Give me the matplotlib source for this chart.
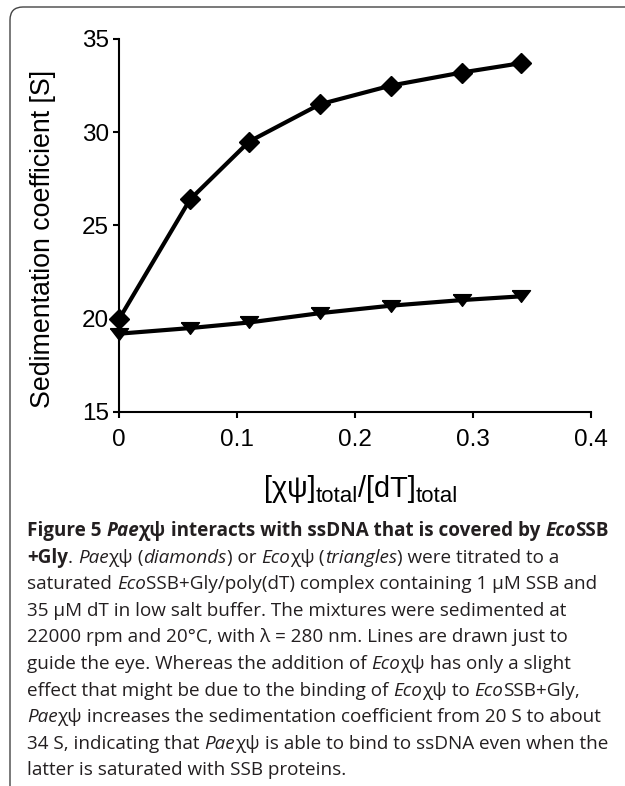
import numpy as np
import matplotlib
matplotlib.use('Agg')
import matplotlib.pyplot as plt
from matplotlib.patches import FancyBboxPatch

plt.rcParams['font.family'] = ['Liberation Sans', 'DejaVu Sans']

# 데이터
ratio = [0, 0.06, 0.11, 0.17, 0.23, 0.29, 0.34]
pae_s = [20.0, 26.4, 29.5, 31.5, 32.5, 33.2, 33.7]
eco_s = [19.2, 19.5, 19.8, 20.3, 20.7, 21.0, 21.2]

x_ticks = [0, 0.1, 0.2, 0.3, 0.4]
x_tick_labels = ['0', '0.1', '0.2', '0.3', '0.4']
y_ticks = [15, 20, 25, 30, 35]

# x축 라벨 조각 (텍스트, 아래첨자 여부)
xlabel_parts = [("[χψ]", False), ("total", True), ("/", False), ("[dT]", False), ("total", True)]

# 캡션 (텍스트, 스타일)
caption = [
    [("Figure 5 ", 'b'), ("Pae", 'bi'), ("χψ", 'b'), (" interacts with ssDNA that is covered by ", 'b'), ("Eco", 'bi'), ("SSB", 'b')],
    [("+Gly", 'b'), (". ", 'r'), ("Pae", 'i'), ("χψ", 'r'), (" (", 'r'), ("diamonds", 'i'), (") or ", 'r'),
     ("Eco", 'i'), ("χψ", 'r'), (" (", 'r'), ("triangles", 'i'), (") were titrated to a", 'r')],
    [("saturated ", 'r'), ("Eco", 'i'), ("SSB+Gly/poly(dT) complex containing 1 µM SSB and", 'r')],
    [("35 µM dT in low salt buffer. The mixtures were sedimented at", 'r')],
    [("22000 rpm and 20°C, with λ = 280 nm. Lines are drawn just to", 'r')],
    [("guide the eye. Whereas the addition of ", 'r'), ("Eco", 'i'), ("χψ", 'r'), (" has only a slight", 'r')],
    [("effect that might be due to the binding of ", 'r'), ("Eco", 'i'), ("χψ", 'r'), (" to ", 'r'),
     ("Eco", 'i'), ("SSB+Gly,", 'r')],
    [("Pae", 'i'), ("χψ", 'r'), (" increases the sedimentation coefficient from 20 S to about", 'r')],
    [("34 S, indicating that ", 'r'), ("Pae", 'i'), ("χψ", 'r'), (" is able to bind to ssDNA even when the", 'r')],
    [("latter is saturated with SSB proteins.", 'r')],
]

W, H = 625, 786
fig = plt.figure(figsize=(W / 100, H / 100), dpi=100)
ax = fig.add_axes([119.3 / W, 1 - 412 / H, 472 / W, 373 / H])

ax.plot(ratio, pae_s, color='black', lw=3, marker='D', markersize=10, clip_on=False, zorder=5)
tri = [(-1, 0.65), (1, 0.65), (0, -0.65), (-1, 0.65)]
ax.plot(ratio, eco_s, color='black', lw=3, marker=tri, markersize=13, clip_on=False, zorder=5)

ax.set_xlim(0, 0.4)
ax.set_ylim(15, 35)
ax.set_xticks(x_ticks)
ax.set_xticklabels(x_tick_labels)
ax.set_yticks(y_ticks)
for s in ['top', 'right']:
    ax.spines[s].set_visible(False)
for s in ['left', 'bottom']:
    ax.spines[s].set_linewidth(1.5)
ax.tick_params(axis='both', labelsize=17.5, width=1.5, length=4.5)
ax.tick_params(axis='y', pad=3)
ax.tick_params(axis='x', pad=8)
ax.set_ylabel('Sedimentation coefficient [S]', fontsize=19.3, va='center')
ax.yaxis.set_label_coords(-(119.3 - 43.5) / 472, (412 - 238.5) / 373)

# 테두리 (왼쪽 위 둥근 모서리)
border = FancyBboxPatch((0.10, -1), 10, 7.79 + 1, boxstyle='round,pad=0,rounding_size=0.13',
                        transform=fig.dpi_scale_trans, fill=False, edgecolor='#444444', lw=1.0)
fig.add_artist(border)

renderer = fig.canvas.get_renderer()


def text_width(txt, **kw):
    t1 = fig.text(0, 0, 'x' + txt + 'x', **kw)
    t2 = fig.text(0, 0, 'xx', **kw)
    d = t1.get_window_extent(renderer).width - t2.get_window_extent(renderer).width
    t1.remove()
    t2.remove()
    return d


# x축 라벨
main_size, sub_size = 20.8, 16
widths = [text_width(p, fontsize=sub_size if sub else main_size) for p, sub in xlabel_parts]
x = 361 - sum(widths) / 2
base = 497
for (p, sub), w in zip(xlabel_parts, widths):
    fig.text(x / W, 1 - (base + (5.5 if sub else 0)) / H, p, fontsize=sub_size if sub else main_size,
             va='baseline', ha='left')
    x += w

# 캡션 그리기
styles = {'r': ('normal', 'normal'), 'b': ('bold', 'normal'), 'i': ('normal', 'italic'), 'bi': ('bold', 'italic')}
cap_size = 13.6

y0 = 536
for i, line in enumerate(caption):
    x = 27
    y = y0 + i * 26.6
    for txt, st in line:
        w, s = styles[st]
        kw = dict(fontsize=cap_size, family='Open Sans', weight=w, style=s)
        fig.text(x / W, 1 - y / H, txt, color='#231f20', va='baseline', ha='left', **kw)
        x += text_width(txt, **kw)

fig.savefig('out.png', dpi=100)
